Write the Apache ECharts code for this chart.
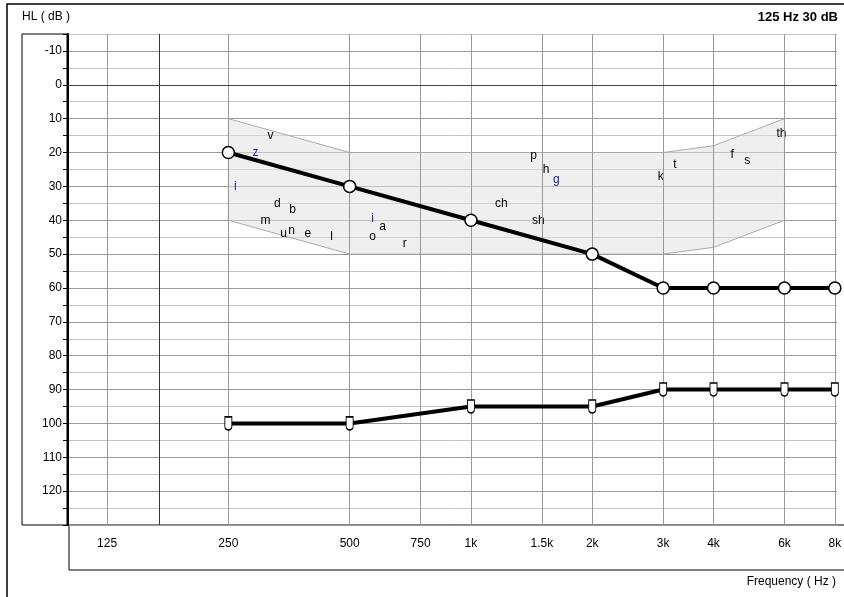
<!DOCTYPE html>
<html><head><meta charset="utf-8">
<script src="https://cdn.jsdelivr.net/npm/echarts@6/dist/echarts.min.js"></script>
<style>html,body{margin:0;padding:0;background:#fff}#c{width:844px;height:597px}</style>
</head><body><div id="c"></div>
<script>
const freqTicks = [125, 250, 500, 750, 1000, 1500, 2000, 3000, 4000, 6000, 8000];
const freqLabels = ['125', '250', '500', '750', '1k', '1.5k', '2k', '3k', '4k', '6k', '8k'];
const dbLabels = [-10, 0, 10, 20, 30, 40, 50, 60, 70, 80, 90, 100, 110, 120];
const acFreq = [250, 500, 1000, 2000, 3000, 4000, 6000, 8000];
const acDb = [20, 30, 40, 50, 60, 60, 60, 60];
const bcFreq = [250, 500, 1000, 2000, 3000, 4000, 6000, 8000];
const bcDb = [100, 100, 95, 95, 90, 90, 90, 90];
const bananaTop = [[250, 10], [500, 20], [3000, 20], [4000, 18], [6000, 10]];
const bananaBottom = [[250, 40], [500, 50], [3000, 50], [4000, 48], [6000, 40]];
const phonemes = ['v','z','i','d','b','m','u','n','e','l','i','a','o','r','p','h','g','ch','sh','k','t','f','s','th'];
const phonFreq = [318,292,260,331,361,309,343,359,394,451,570,604,570,685,1430,1536,1630,1190,1470,2960,3210,4450,4850,5900];
const phonDb = [15,20,30,35,37,40,44,43,44,45,39.5,42,45,47,21,25,28,35,40,27,23.5,20.5,22.5,14.5];
const phonBlue = [1,2,10,16];

const FONT = '"Liberation Sans", Arial, sans-serif';
const chart = echarts.init(document.getElementById('c'));
const polygon = bananaTop.concat(bananaBottom.slice().reverse());
const uSym = 'path://M0,0 L0,9 A3,3 0 0 0 6,9 L6,0 Z';

chart.setOption({
  animation: false,
  grid: { left: 68, top: 34, right: 7, bottom: 72 },
  xAxis: {
    type: 'log', logBase: 2, min: 100, max: 8100,
    axisLine: { show: false }, axisTick: { show: false }, axisLabel: { show: false },
    splitLine: { show: false }
  },
  yAxis: {
    type: 'value', inverse: true, min: -15, max: 130, interval: 5,
    axisLine: { show: true, lineStyle: { color: '#000', width: 2 } },
    axisTick: { show: true, length: 5, lineStyle: { color: '#000' } },
    axisLabel: {
      color: '#000', fontFamily: FONT, fontSize: 12, margin: 6,
      formatter: v => (dbLabels.indexOf(v) >= 0 ? String(v) : '')
    },
    splitLine: { show: true, lineStyle: { color: ['#c4c4c4', '#9a9a9a'], width: 1 } }
  },
  graphic: [
    { type: 'rect', shape: { x: 7, y: 4, width: 850, height: 600 }, style: { fill: 'none', stroke: '#000', lineWidth: 1.5 } },
    { type: 'rect', shape: { x: 22, y: 34, width: 45, height: 491 }, style: { fill: 'none', stroke: '#000', lineWidth: 1 } },
    { type: 'rect', shape: { x: 69, y: 525, width: 780, height: 45 }, style: { fill: 'none', stroke: '#000', lineWidth: 1 } },
    { type: 'text', left: 22, top: 11, style: { text: 'HL ( dB )', font: '12px ' + FONT, fill: '#000' } },
    { type: 'text', right: 6, top: 11, style: { text: '125 Hz 30 dB', font: 'bold 13px ' + FONT, fill: '#000' } },
    { type: 'text', right: 8, top: 576, style: { text: 'Frequency ( Hz )', font: '12px ' + FONT, fill: '#000' } }
  ],
  series: [
    {
      type: 'custom', silent: true, z: 1,
      renderItem: (params, api) => ({
        type: 'polygon',
        shape: { points: polygon.map(p => api.coord(p)) },
        style: { fill: 'rgba(225,225,225,0.55)', stroke: '#aaa', lineWidth: 1 }
      }),
      data: [0]
    },
    {
      type: 'line', data: [], silent: true,
      markLine: {
        symbol: 'none', silent: true, label: { show: false },
        lineStyle: { color: '#999', type: 'solid', width: 1 },
        data: freqTicks.map(f => ({ xAxis: f })).concat([
          { xAxis: 168, lineStyle: { color: '#333', width: 1 } },
          { yAxis: 0, lineStyle: { color: '#444', width: 1 } }
        ])
      }
    },
    {
      type: 'scatter', symbolSize: 0, silent: true, z: 5, clip: false,
      itemStyle: { opacity: 1 },
      data: freqTicks.map((f, i) => ({ value: [f, 135.5], label: { formatter: freqLabels[i] } })),
      label: { show: true, position: 'inside', color: '#000', fontFamily: FONT, fontSize: 12 }
    },
    {
      type: 'scatter', symbolSize: 0, silent: true, z: 4,
      itemStyle: { opacity: 1 },
      data: phonemes.map((p, i) => ({
        value: [phonFreq[i], phonDb[i]],
        label: { formatter: p, color: phonBlue.indexOf(i) >= 0 ? '#1a1aa8' : '#000' }
      })),
      label: { show: true, position: 'inside', fontFamily: FONT, fontSize: 12 }
    },
    {
      type: 'line', z: 6,
      data: acFreq.map((f, i) => [f, acDb[i]]),
      symbol: 'circle', symbolSize: 12, showAllSymbol: true,
      lineStyle: { color: '#000', width: 4 },
      itemStyle: { color: '#fff', borderColor: '#000', borderWidth: 1.5 }
    },
    {
      type: 'line', z: 6,
      data: bcFreq.map((f, i) => [f, bcDb[i]]),
      symbol: uSym, symbolSize: [7, 13], showAllSymbol: true,
      lineStyle: { color: '#000', width: 4 },
      itemStyle: { color: '#fff', borderColor: '#000', borderWidth: 1.2 }
    }
  ]
});
</script></body></html>
